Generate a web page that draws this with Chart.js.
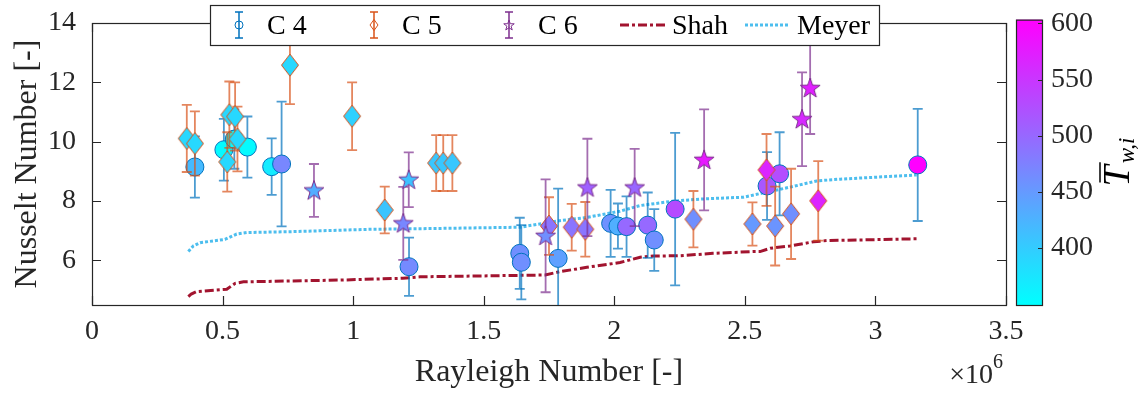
<!DOCTYPE html>
<html>
<head>
<meta charset="utf-8">
<script src="https://cdn.jsdelivr.net/npm/chart.js@4.4.1/dist/chart.umd.min.js"></script>
<style>
  html, body { margin: 0; padding: 0; background: #fff; }
  #wrap { width: 1142px; height: 393px; }
</style>
</head>
<body>
<div id="wrap"><canvas id="grafico" width="1142" height="393"></canvas></div>
<script>
// Rayleigh number in units of 1e6, Nusselt number, error, mean wall temperature
const raC4 = [0.394, 0.505, 0.545, 0.595, 0.688, 0.726, 1.214, 1.638, 1.644, 1.785, 1.986, 2.014, 2.047, 2.128, 2.153, 2.233, 2.585, 2.633, 3.162];
const nuC4 = [9.15, 9.73, 10.09, 9.82, 9.16, 9.25, 5.79, 6.24, 5.94, 6.07, 7.25, 7.16, 7.14, 7.19, 6.69, 7.73, 8.51, 8.92, 9.22];
const errC4 = [1.03, 1.04, 1.0, 1.03, 0.95, 2.1, 0.98, 1.2, 1.25, 2.35, 1.13, 0.76, 1.02, 1.1, 1.04, 2.57, 1.14, 1.4, 1.89];
const twC4 = [418, 355, 355, 355, 370, 468, 465, 460, 460, 443, 458, 428, 497, 497, 460, 527, 515, 525, 600];

const raC5 = [0.363, 0.394, 0.518, 0.526, 0.548, 0.557, 0.758, 0.996, 1.121, 1.318, 1.345, 1.38, 1.75, 1.837, 1.889, 2.303, 2.529, 2.583, 2.616, 2.677, 2.781];
const nuC5 = [10.11, 9.94, 9.32, 10.91, 10.85, 10.09, 12.58, 10.86, 7.70, 9.28, 9.28, 9.28, 7.16, 7.12, 7.05, 7.39, 7.23, 9.05, 7.16, 7.57, 8.01];
const errC5 = [1.13, 1.08, 1.0, 1.12, 1.15, 1.09, 1.31, 1.14, 0.79, 0.94, 0.94, 0.94, 0.97, 0.79, 0.92, 0.95, 0.73, 1.21, 1.33, 1.52, 1.34];
const twC5 = [388, 388, 388, 388, 388, 388, 388, 395, 408, 405, 405, 405, 485, 485, 485, 460, 450, 565, 455, 460, 565];

const raC6 = [0.85, 1.192, 1.213, 1.737, 1.897, 2.078, 2.344, 2.719, 2.75];
const nuC6 = [8.36, 7.25, 8.72, 6.83, 8.46, 8.46, 9.39, 10.76, 11.81];
const errC6 = [0.89, 1.23, 0.92, 1.9, 1.64, 1.3, 1.7, 1.58, 1.55];
const twC6 = [430, 468, 410, 460, 505, 500, 575, 560, 570];

const raShah = [0.369, 0.38, 0.40, 0.516, 0.548, 0.58, 0.95, 1.19, 1.256, 1.735, 1.79, 1.895, 2.022, 2.099, 2.149, 2.252, 2.378, 2.53, 2.558, 2.597, 2.673, 2.763, 2.814, 3.158];
const nuShah = [4.78, 4.87, 4.95, 5.03, 5.23, 5.28, 5.34, 5.40, 5.45, 5.51, 5.62, 5.77, 5.93, 6.11, 6.15, 6.16, 6.24, 6.30, 6.30, 6.41, 6.49, 6.63, 6.67, 6.73];

const raMeyer = [0.369, 0.388, 0.414, 0.509, 0.554, 0.592, 0.758, 1.064, 1.256, 1.639, 1.728, 1.79, 1.895, 2.022, 2.099, 2.226, 2.353, 2.494, 2.583, 2.673, 2.775, 2.865, 3.158];
const nuMeyer = [6.30, 6.49, 6.60, 6.71, 6.89, 6.94, 6.97, 7.05, 7.07, 7.12, 7.25, 7.34, 7.45, 7.66, 7.85, 8.0, 8.08, 8.13, 8.30, 8.47, 8.68, 8.74, 8.88];

const xTicks = [0, 0.5, 1, 1.5, 2, 2.5, 3, 3.5];
const xTickLabels = ['0', '0.5', '1', '1.5', '2', '2.5', '3', '3.5'];
const yTicks = [6, 8, 10, 12, 14];
const yTickLabels = ['6', '8', '10', '12', '14'];
const cbTicks = [400, 450, 500, 550, 600];
const cbTickLabels = ['400', '450', '500', '550', '600'];
const cbRange = [349.4, 603.3];

const edgeC4 = '#0072BD', edgeC5 = '#D95319', edgeC6 = '#7E2F8E';

// MATLAB "cool" colormap
function cool(t) {
  const f = Math.min(1, Math.max(0, (t - 350) / 250));
  return 'rgb(' + Math.round(255 * f) + ',' + Math.round(255 * (1 - f)) + ',255)';
}

function diamond(fill) {
  const c = document.createElement('canvas');
  c.width = 20; c.height = 26;
  const g = c.getContext('2d');
  g.beginPath();
  g.moveTo(10, 2); g.lineTo(18.5, 13); g.lineTo(10, 24); g.lineTo(1.5, 13); g.closePath();
  g.fillStyle = fill; g.fill();
  g.strokeStyle = edgeC5; g.lineWidth = 1; g.stroke();
  return c;
}

function starPath(g, cx, cy, r) {
  g.beginPath();
  for (let k = 0; k < 10; k++) {
    const rr = k % 2 ? r * 0.4 : r;
    const a = -Math.PI / 2 + k * Math.PI / 5;
    g.lineTo(cx + rr * Math.cos(a), cy + rr * Math.sin(a));
  }
  g.closePath();
}

function star(fill) {
  const c = document.createElement('canvas');
  c.width = 24; c.height = 24;
  const g = c.getContext('2d');
  starPath(g, 12, 12.5, 10.5);
  g.fillStyle = fill; g.fill();
  g.strokeStyle = edgeC6; g.lineWidth = 1; g.stroke();
  return c;
}

const toPts = (xs, ys) => xs.map((x, i) => ({x: x, y: ys[i]}));

const errorBars = {
  id: 'errorBars',
  beforeDatasetDraw(chart, args) {
    const ds = chart.data.datasets[args.index];
    if (!ds.errors) return;
    const ctx = chart.ctx, a = chart.chartArea, y = chart.scales.y;
    ctx.save();
    ctx.beginPath();
    ctx.rect(a.left, a.top, a.right - a.left, a.bottom - a.top);
    ctx.clip();
    ctx.strokeStyle = ds.barColor;
    ctx.lineWidth = 1.8;
    args.meta.data.forEach((pt, i) => {
      const v = ds.data[i].y, e = ds.errors[i];
      const yt = y.getPixelForValue(v + e), yb = y.getPixelForValue(v - e);
      ctx.beginPath();
      ctx.moveTo(pt.x, yt); ctx.lineTo(pt.x, yb);
      ctx.moveTo(pt.x - 5, yt); ctx.lineTo(pt.x + 5, yt);
      ctx.moveTo(pt.x - 5, yb); ctx.lineTo(pt.x + 5, yb);
      ctx.stroke();
    });
    ctx.restore();
  }
};

// box and inward ticks, matlab style
const frame = {
  id: 'frame',
  beforeDatasetsDraw(chart) {
    const ctx = chart.ctx, a = chart.chartArea, xs = chart.scales.x, ys = chart.scales.y;
    ctx.save();
    ctx.strokeStyle = '#262626';
    ctx.lineWidth = 1.2;
    ctx.beginPath();
    xTicks.forEach(v => {
      const px = Math.round(xs.getPixelForValue(v)) + 0.5;
      ctx.moveTo(px, a.bottom); ctx.lineTo(px, a.bottom - 9);
      ctx.moveTo(px, a.top); ctx.lineTo(px, a.top + 9);
    });
    yTicks.forEach(v => {
      const py = Math.round(ys.getPixelForValue(v)) + 0.5;
      ctx.moveTo(a.left, py); ctx.lineTo(a.left + 9, py);
      ctx.moveTo(a.right, py); ctx.lineTo(a.right - 9, py);
    });
    ctx.stroke();
    ctx.strokeRect(a.left + 0.5, a.top + 0.5, a.right - a.left, a.bottom - a.top);
    ctx.restore();
  }
};

const extras = {
  id: 'extras',
  afterDraw(chart) {
    const ctx = chart.ctx, cb = chart.scales.cb;
    ctx.save();

    // colorbar
    const x0 = cb.left + 10, w = 26;
    const yTop = cb.getPixelForValue(cbRange[1]), yBot = cb.getPixelForValue(cbRange[0]);
    const grad = ctx.createLinearGradient(0, yBot, 0, yTop);
    grad.addColorStop(0, 'rgb(0,255,255)');
    grad.addColorStop(1, 'rgb(255,0,255)');
    ctx.fillStyle = grad;
    ctx.fillRect(x0, yTop, w, yBot - yTop);
    ctx.strokeStyle = '#262626';
    ctx.lineWidth = 1.2;
    ctx.strokeRect(x0 + 0.5, yTop + 0.5, w, yBot - yTop);
    ctx.beginPath();
    cbTicks.forEach(v => {
      const py = Math.round(cb.getPixelForValue(v)) + 0.5;
      ctx.moveTo(x0 + w, py); ctx.lineTo(x0 + w - 4, py);
    });
    ctx.stroke();

    // colorbar label  T-bar_{w,i}
    ctx.fillStyle = '#000';
    ctx.translate(1129, 162);
    ctx.rotate(-Math.PI / 2);
    ctx.font = 'italic 38px "Liberation Serif"';
    const wT = ctx.measureText('T').width;
    ctx.font = 'italic 23px "Liberation Serif"';
    const wS = ctx.measureText('w,i').width;
    const sx = -(wT + wS + 2) / 2;
    ctx.font = 'italic 38px "Liberation Serif"';
    ctx.textBaseline = 'alphabetic';
    ctx.fillText('T', sx, 0);
    ctx.font = 'italic 23px "Liberation Serif"';
    ctx.fillText('w,i', sx + wT + 2, 5);
    ctx.strokeStyle = '#000';
    ctx.lineWidth = 1.5;
    ctx.beginPath();
    ctx.moveTo(sx + 4, -29); ctx.lineTo(sx + wT + 3, -29);
    ctx.stroke();
    ctx.setTransform(1, 0, 0, 1, 0, 0);

    // x10^6 exponent
    ctx.fillStyle = '#262626';
    ctx.textBaseline = 'alphabetic';
    ctx.font = '28px "Liberation Serif"';
    const w1 = ctx.measureText('\u00d710').width;
    ctx.font = '20px "Liberation Serif"';
    const w2 = ctx.measureText('6').width;
    const ex = 1003 - w1 - w2;
    ctx.font = '28px "Liberation Serif"';
    ctx.fillText('\u00d710', ex, 383);
    ctx.font = '20px "Liberation Serif"';
    ctx.fillText('6', ex + w1, 368);

    // legend box
    const ds = chart.data.datasets;
    ctx.fillStyle = '#fff';
    ctx.fillRect(210, 5, 669, 40);
    ctx.strokeStyle = '#262626';
    ctx.lineWidth = 1.2;
    ctx.strokeRect(210.5, 5.5, 669, 40);
    ctx.font = '28px "Liberation Serif"';
    const cy = 25;
    [[0, 239, 267, edgeC4, 'circle'], [1, 374, 402, edgeC5, 'diamond'], [2, 509, 538, edgeC6, 'star']].forEach(item => {
      const [i, ix, tx, col, shape] = item;
      ctx.strokeStyle = col;
      ctx.lineWidth = 1.5;
      ctx.beginPath();
      ctx.moveTo(ix, 12); ctx.lineTo(ix, 38);
      ctx.moveTo(ix - 4, 12); ctx.lineTo(ix + 4, 12);
      ctx.moveTo(ix - 4, 38); ctx.lineTo(ix + 4, 38);
      ctx.stroke();
      ctx.lineWidth = 1;
      if (shape === 'circle') {
        ctx.beginPath(); ctx.arc(ix, cy, 4, 0, Math.PI * 2);
      } else if (shape === 'diamond') {
        ctx.beginPath(); ctx.moveTo(ix, cy - 5.5); ctx.lineTo(ix + 4, cy); ctx.lineTo(ix, cy + 5.5); ctx.lineTo(ix - 4, cy); ctx.closePath();
      } else {
        starPath(ctx, ix, cy + 0.5, 5.5);
      }
      ctx.stroke();
      ctx.fillStyle = '#000';
      ctx.fillText(ds[i].label, tx, 34);
    });
    [[3, 620, 668, 672], [4, 745, 790, 797]].forEach(item => {
      const [i, l0, l1, tx] = item;
      ctx.strokeStyle = ds[i].borderColor;
      ctx.lineWidth = 3;
      ctx.setLineDash(ds[i].borderDash);
      ctx.beginPath(); ctx.moveTo(l0, cy); ctx.lineTo(l1, cy); ctx.stroke();
      ctx.setLineDash([]);
      ctx.fillStyle = '#000';
      ctx.fillText(ds[i].label, tx, 34);
    });
    ctx.restore();
  }
};

Chart.defaults.font.family = '"Liberation Serif", "Times New Roman", serif';
Chart.defaults.color = '#262626';

// keep vertical axes from pushing the plot area down
const noVPad = s => { s.paddingTop = 0; s.paddingBottom = 0; };

new Chart(document.getElementById('grafico'), {
  type: 'scatter',
  data: {
    datasets: [
      { label: 'C 4', data: toPts(raC4, nuC4), errors: errC4, barColor: 'rgba(0,114,189,0.7)',
        pointStyle: 'circle', pointRadius: 9, pointBackgroundColor: twC4.map(cool),
        pointBorderColor: edgeC4, pointBorderWidth: 1, order: 3 },
      { label: 'C 5', data: toPts(raC5, nuC5), errors: errC5, barColor: 'rgba(217,83,25,0.7)',
        pointStyle: twC5.map(t => diamond(cool(t))), pointRadius: 10, order: 2 },
      { label: 'C 6', data: toPts(raC6, nuC6), errors: errC6, barColor: 'rgba(126,47,142,0.7)',
        pointStyle: twC6.map(t => star(cool(t))), pointRadius: 10, order: 1 },
      { type: 'line', label: 'Shah', data: toPts(raShah, nuShah), showLine: true,
        borderColor: '#A2142F', borderWidth: 3, borderDash: [9, 3, 3, 3], pointRadius: 0, tension: 0, fill: false, order: 10 },
      { type: 'line', label: 'Meyer', data: toPts(raMeyer, nuMeyer), showLine: true,
        borderColor: '#4DBEEE', borderWidth: 3, borderDash: [3, 2], pointRadius: 0, tension: 0, fill: false, order: 9 }
    ]
  },
  options: {
    responsive: false,
    animation: false,
    events: [],
    layout: { padding: { top: 23, left: 0, right: 0, bottom: 0 } },
    plugins: { legend: { display: false }, tooltip: { enabled: false } },
    scales: {
      x: {
        type: 'linear', position: 'bottom', min: 0, max: 3.5,
        afterBuildTicks: s => { s.ticks = xTicks.map(v => ({value: v})); },
        afterFit: s => { s.height = 88; },
        grid: { display: false, drawTicks: false },
        border: { display: false },
        ticks: { callback: (v, i) => xTickLabels[i], padding: 10, maxRotation: 0, autoSkip: false, font: { size: 28 }, color: '#262626' },
        title: { display: true, text: 'Rayleigh Number [-]', font: { size: 32 }, color: '#262626', padding: { top: 0, bottom: 1 } }
      },
      y: {
        type: 'linear', position: 'left', min: 4.5, max: 14,
        afterBuildTicks: s => { s.ticks = yTicks.map(v => ({value: v})); },
        afterFit: s => { s.width = 92; noVPad(s); },
        grid: { display: false, drawTicks: false },
        border: { display: false },
        ticks: { callback: (v, i) => yTickLabels[i], padding: 16, autoSkip: false, font: { size: 28 }, color: '#262626' },
        title: { display: true, text: 'Nusselt Number [-]', font: { size: 32 }, color: '#262626', padding: { top: 8, bottom: 0 } }
      },
      cb: {
        type: 'linear', position: 'right', min: 349.4, max: 600.3,
        afterBuildTicks: s => { s.ticks = cbTicks.map(v => ({value: v})); },
        afterFit: s => { s.width = 136; noVPad(s); },
        grid: { display: false, drawTicks: false },
        border: { display: false },
        ticks: { callback: (v, i) => cbTickLabels[i], padding: 45, autoSkip: false, font: { size: 28 }, color: '#262626' }
      }
    }
  },
  plugins: [errorBars, frame, extras]
});
</script>
</body>
</html>
